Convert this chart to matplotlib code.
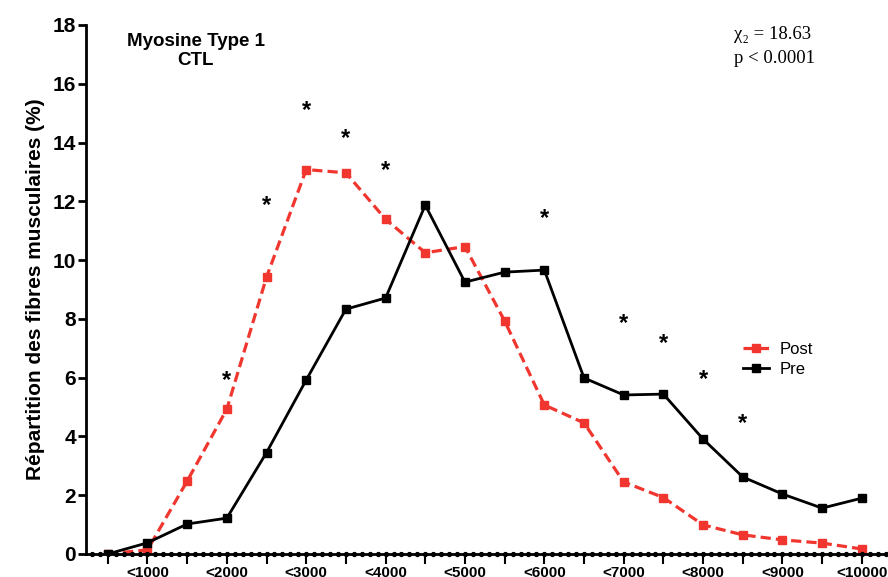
import numpy as np
import matplotlib
matplotlib.use("Agg")
from matplotlib import pyplot as plt

plt.rcParams['font.family'] = ['Liberation Sans', 'DejaVu Sans']

bins = ["<500", "<1000", "<1500", "<2000", "<2500", "<3000", "<3500", "<4000", "<4500", "<5000",
        "<5500", "<6000", "<6500", "<7000", "<7500", "<8000", "<8500", "<9000", "<9500", "<10000"]
pre = [0.0, 0.38, 1.02, 1.22, 3.45, 5.92, 8.33, 8.71, 11.87, 9.25,
       9.59, 9.66, 5.99, 5.41, 5.44, 3.91, 2.62, 2.04, 1.56, 1.90]
post = [0.0, 0.14, 2.48, 4.93, 9.42, 13.08, 12.97, 11.39, 10.25, 10.46,
        7.93, 5.07, 4.46, 2.45, 1.92, 0.99, 0.65, 0.48, 0.37, 0.17]
star_bins = ["<2000", "<2500", "<3000", "<3500", "<4000", "<6000", "<7000", "<7500", "<8000", "<8500"]
star_y = [6.0, 11.95, 15.2, 14.25, 13.15, 11.5, 7.95, 7.25, 6.05, 4.55]

red = '#F0362E'
x = np.arange(len(bins))

fig = plt.figure(figsize=(8.88, 5.77), dpi=100)
ax = fig.add_axes([0.0968, 0.0399, 0.9032, 0.9168])

ax.plot(x, post, color=red, linestyle=(0, (3.2, 1.6)), lw=2.3, marker='s', ms=6, label='Post')
ax.plot(x, pre, color='black', lw=2.0, marker='s', ms=6, label='Pre')

# little dots along the x axis
dots = np.arange(-0.4, 19.7, 0.2)
ax.plot(dots, np.zeros_like(dots), 'o', color='black', ms=2.8, clip_on=False, zorder=5)

for b, yv in zip(star_bins, star_y):
    ax.text(bins.index(b), yv - 0.1, '*', ha='center', va='center', fontsize=17,
            fontweight='bold', color='black')

ax.set_xlim(-0.55, 19.66)
ax.set_ylim(0, 18)
ax.set_yticks(np.arange(0, 19, 2))
ax.set_xticks(x)
ax.set_xticklabels([b if i % 2 == 1 else '' for i, b in enumerate(bins)], fontweight='bold', fontsize=11)
for lab in ax.get_yticklabels():
    lab.set_fontweight('bold')
    lab.set_fontsize(15)

ax.spines['top'].set_visible(False)
ax.spines['right'].set_visible(False)
ax.spines['left'].set_linewidth(2)
ax.spines['bottom'].set_linewidth(2)
ax.tick_params(axis='y', length=6, width=2, pad=1)
ax.tick_params(axis='x', length=7, width=1.5, pad=2)

ax.set_ylabel('Répartition des fibres musculaires (%)', fontsize=15, fontweight='bold', labelpad=6)

ax.text(0.137, 0.985, 'Myosine Type 1\nCTL', transform=ax.transAxes, ha='center', va='top',
        fontsize=13.5, fontweight='bold', linespacing=1.15)
fig.text(0.827, 0.94, 'χ₂ = 18.63', family=['Liberation Serif', 'DejaVu Serif'], fontsize=13.5, va='center')
fig.text(0.827, 0.898, 'p < 0.0001', family=['Liberation Serif', 'DejaVu Serif'], fontsize=13.5, va='center')

ax.legend(loc='upper left', bbox_to_anchor=(0.80, 0.43), frameon=False, fontsize=12,
          handlelength=1.6, handletextpad=0.6, labelspacing=0.3)

fig.savefig('out.png', dpi=100)
